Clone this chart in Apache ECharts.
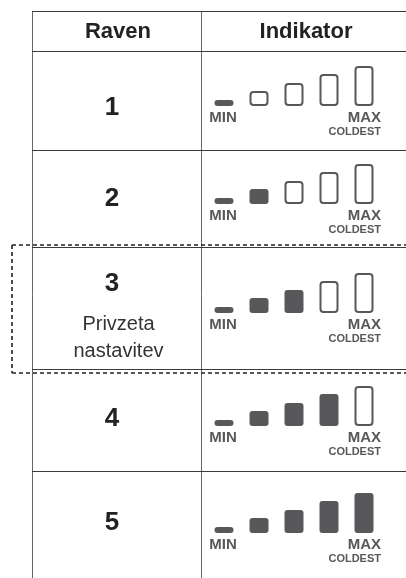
<!DOCTYPE html>
<html>
<head>
<meta charset="utf-8">
<script src="https://cdn.jsdelivr.net/npm/echarts@6/dist/echarts.min.js"></script>
<style>
html,body{margin:0;padding:0;background:#fff;}
#c{width:406px;height:578px;}
</style>
</head>
<body>
<div id="c"></div>
<script>
// ---- data ----
const headers = ['Raven', 'Indikator'];
const levels = ['1', '2', '3', '4', '5'];
const levelNotes = ['', '', 'Privzeta\nnastavitev', '', ''];
const segmentHeights = [6, 15, 23, 32, 40];   // indicator segments, MIN .. MAX
const filledCounts = [1, 2, 3, 4, 5];        // filled segments per level
const scaleLabels = ['MIN', 'MAX', 'COLDEST'];
const defaultLevel = '3';

// ---- layout ----
const FONT = '"Liberation Sans", Arial, Helvetica, sans-serif';
const X_LEFT = 32, X_DIV = 201, X_RIGHT = 406;
const Y_TOP = 11, Y_HEAD = 51;
const rowLines = [150, 247, 369, 471];
const rowTops = [51, 150, 247, 369, 471];
const rowBottoms = [150, 247, 369, 471, 584];
const digitY = [107.5, 199, 283.5, 418.5, 522.5];
const barBase = [106, 204, 313, 426, 533];
const GRID_LEFT = 206.5, GRID_W = 175, GRID_H = 45;
const INK = '#58585a';
const LINE = '#3a3a3a';

const chart = echarts.init(document.getElementById('c'), null, {renderer: 'canvas'});

const grids = [], xAxes = [], yAxes = [], series = [];
levels.forEach((lv, i) => {
  grids.push({left: GRID_LEFT, width: GRID_W, top: barBase[i] - GRID_H, height: GRID_H});
  xAxes.push({type: 'category', gridIndex: i, show: false, data: segmentHeights.map((_, j) => j)});
  yAxes.push({type: 'value', gridIndex: i, show: false, min: 0, max: GRID_H});
  series.push({
    type: 'bar', xAxisIndex: i, yAxisIndex: i, barWidth: 19, silent: true, animation: false,
    data: segmentHeights.map((h, j) => {
      const filled = j < filledCounts[i];
      return {
        value: h,
        itemStyle: filled
          ? {color: INK, borderRadius: 3}
          : {color: '#fff', borderColor: INK, borderWidth: 2, borderRadius: 3}
      };
    })
  });
});

const g = [];
function hline(y, x1, x2, color, w, dash) {
  g.push({type: 'line', shape: {x1: x1, y1: y, x2: x2, y2: y}, style: {stroke: color, lineWidth: w || 1, lineDash: dash || null}, silent: true});
}
function vline(x, y1, y2, color, w, dash) {
  g.push({type: 'line', shape: {x1: x, y1: y1, x2: x, y2: y2}, style: {stroke: color, lineWidth: w || 1, lineDash: dash || null}, silent: true});
}
function text(str, x, y, size, weight, align, color) {
  g.push({type: 'text', x: x, y: y, silent: true, style: {
    text: str, fontSize: size, fontWeight: weight, fontFamily: FONT,
    fill: color || '#222', align: align || 'center', verticalAlign: 'middle'
  }});
}

// table lines
vline(X_LEFT + 0.5, Y_TOP, 578, '#666', 1);
vline(X_DIV + 0.5, Y_TOP, 578, '#666', 1);
hline(Y_TOP + 0.5, X_LEFT, X_RIGHT, LINE, 1);
hline(Y_HEAD + 0.5, X_LEFT, X_RIGHT, LINE, 1);
rowLines.forEach(y => hline(y + 0.5, X_LEFT, X_RIGHT, LINE, 1));

// dashed box around default level
const di = levels.indexOf(defaultLevel);
const dTop = rowTops[di] - 2, dBot = rowBottoms[di] + 4;
hline(dTop, 12, X_RIGHT, '#222', 1.6, [4, 3]);
hline(dBot, 12, X_RIGHT, '#222', 1.6, [4, 3]);
vline(12, dTop, dBot, '#222', 1.6, [4, 3]);

// headers
text(headers[0], 118, 32, 22, 'bold');
text(headers[1], 306, 32, 22, 'bold');

// level numbers and notes
levels.forEach((lv, i) => {
  text(lv, 112, digitY[i], 26, 'bold');
  if (levelNotes[i]) {
    const parts = levelNotes[i].split('\n');
    parts.forEach((p, k) => text(p, 118.5, 324.5 + k * 27, 20, 'normal', 'center', '#333'));
  }
  text(scaleLabels[0], 223, barBase[i] + 11.5, 15, 'bold', 'center', INK);
  text(scaleLabels[1], 381, barBase[i] + 11.5, 15, 'bold', 'right', INK);
  text(scaleLabels[2], 381, barBase[i] + 25.5, 11, 'bold', 'right', INK);
});

chart.setOption({
  animation: false,
  grid: grids,
  xAxis: xAxes,
  yAxis: yAxes,
  series: series,
  graphic: {elements: g}
});
</script>
</body>
</html>
